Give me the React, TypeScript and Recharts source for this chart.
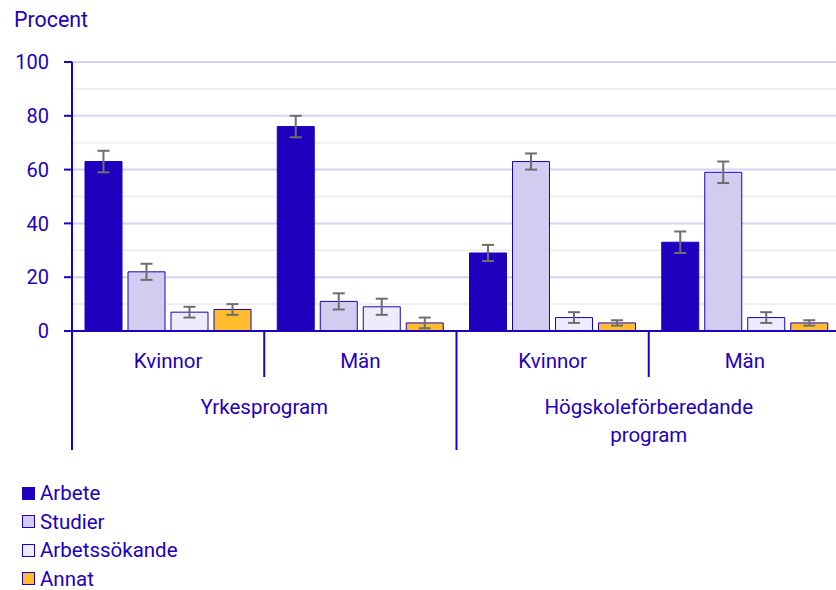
import React from 'react';
import { BarChart, Bar, XAxis, YAxis, CartesianGrid, ErrorBar, Legend } from 'recharts';

const programs = ['Yrkesprogram', 'Yrkesprogram', 'Högskoleförberedande program', 'Högskoleförberedande program'];
const sexes = ['Kvinnor', 'Män', 'Kvinnor', 'Män'];
const seriesNames = ['Arbete', 'Studier', 'Arbetssökande', 'Annat'];
const arbete = [63, 76, 29, 33];
const arbeteErr = [4, 4, 3, 4];
const studier = [22, 11, 63, 59];
const studierErr = [3, 3, 3, 4];
const arbetssokande = [7, 9, 5, 5];
const arbetssokandeErr = [2, 3, 2, 2];
const annat = [8, 3, 3, 3];
const annatErr = [2, 2, 1, 1];
const yTicks = [0, 20, 40, 60, 80, 100];
const minorTicks = [10, 30, 50, 70, 90];

const data = sexes.map((s, i) => ({
  sex: s,
  prog: programs[i],
  arbete: arbete[i],
  arbeteErr: arbeteErr[i],
  studier: studier[i],
  studierErr: studierErr[i],
  arbetssokande: arbetssokande[i],
  arbetssokandeErr: arbetssokandeErr[i],
  annat: annat[i],
  annatErr: annatErr[i],
}));

const INK = '#1e00be';
const FONT = 'Roboto, sans-serif';
const TXT = 20.5;
const BIG = 21.4;
const CHART_W = 845;
const CHART_H = 590;
const M = { top: 62, right: 4, left: 0, bottom: 30 };
const Y_W = 72;
const SEX_H = 46;
const PROG_H = 73;
const LEG_H = 110;
const BW = (CHART_W - M.left - M.right - Y_W) / sexes.length;

const SexTick = (props: any) => {
  const { x, y, payload, index } = props;
  return (
    <g>
      <text x={x} y={y + 30} textAnchor="middle" dominantBaseline="central" fill={INK} fontSize={TXT} fontFamily={FONT}>
        {payload.value}
      </text>
      {index === 0 && (
        <line x1={x - BW / 2} x2={x - BW / 2} y1={y} y2={y + SEX_H + PROG_H} stroke={INK} strokeWidth={2} />
      )}
      <line
        x1={x + BW / 2}
        x2={x + BW / 2}
        y1={y}
        y2={index % 2 === 1 ? y + SEX_H + PROG_H : y + SEX_H}
        stroke={INK}
        strokeWidth={2}
      />
    </g>
  );
};

const ProgTick = (props: any) => {
  const { x, y, payload } = props;
  const words = String(payload.value).split(' ');
  return (
    <text x={x} y={y + 30} textAnchor="middle" fill={INK} fontSize={TXT} fontFamily={FONT}>
      {words.map((w, i) => (
        <tspan key={i} x={x} dy={i === 0 ? 0 : 28} dominantBaseline="central">
          {w}
        </tspan>
      ))}
    </text>
  );
};

const LegendContent = (props: any) => {
  const items = [...(props.payload || [])].sort(
    (a: any, b: any) => seriesNames.indexOf(a.value) - seriesNames.indexOf(b.value)
  );
  return (
    <div style={{ height: LEG_H, fontFamily: FONT, fontSize: TXT, color: INK, lineHeight: 1 }}>
      {items.map((p: any) => (
        <div key={p.value} style={{ display: 'flex', alignItems: 'center', height: 28.5 }}>
          <span
            style={{
              display: 'inline-block',
              width: 11,
              height: 11,
              background: p.color,
              border: `1px solid ${INK}`,
              marginRight: 5,
            }}
          />
          <span>{p.value}</span>
        </div>
      ))}
    </div>
  );
};

const TitleLabel = () => (
  <text x={14} y={27} fill={INK} fontSize={BIG} fontFamily={FONT}>
    Procent
  </text>
);

const series = [
  { key: 'arbete', err: 'arbeteErr', fill: '#1e00be' },
  { key: 'studier', err: 'studierErr', fill: '#d2cdf0' },
  { key: 'arbetssokande', err: 'arbetssokandeErr', fill: '#edebfc' },
  { key: 'annat', err: 'annatErr', fill: '#ffbd2e' },
];

export default function App() {
  return (
    <div style={{ position: 'absolute', left: 0, top: 0, width: 836, height: 590, overflow: 'hidden', background: '#fff', fontFamily: FONT }}>
      <BarChart
        width={CHART_W}
        height={CHART_H}
        data={data}
        margin={M}
        barCategoryGap={13}
        barGap={6}
        style={{ fontFamily: FONT }}
      >
        <CartesianGrid vertical={false} xAxisId="a" horizontalValues={minorTicks} stroke="#efeff2" strokeWidth={2} />
        <CartesianGrid vertical={false} xAxisId="a" horizontalValues={yTicks} stroke="#d6d2f1" strokeWidth={2} />
        <XAxis
          xAxisId="a"
          dataKey="sex"
          height={SEX_H}
          axisLine={{ stroke: INK, strokeWidth: 2 }}
          tickLine={false}
          tickSize={0}
          tickMargin={0}
          tick={<SexTick />}
          interval={0}
        />
        <XAxis
          xAxisId="b"
          dataKey="prog"
          allowDuplicatedCategory={false}
          height={PROG_H}
          axisLine={false}
          tickLine={false}
          tickSize={0}
          tickMargin={0}
          tick={<ProgTick />}
          interval={0}
        />
        <YAxis
          width={Y_W}
          domain={[0, 100]}
          ticks={yTicks}
          axisLine={{ stroke: INK, strokeWidth: 2 }}
          tickLine={{ stroke: INK, strokeWidth: 2 }}
          tickSize={8}
          tickMargin={15}
          tick={{ fill: INK, fontSize: 20, fontFamily: FONT }}
          label={<TitleLabel />}
        />
        <Legend
          layout="vertical"
          align="center"
          verticalAlign="bottom"
          content={<LegendContent />}
          wrapperStyle={{ left: 22, top: 479, width: 300 }}
        />
        {series.map((s, i) => (
          <Bar
            key={s.key}
            xAxisId="a"
            dataKey={s.key}
            name={seriesNames[i]}
            fill={s.fill}
            stroke={INK}
            strokeWidth={1}
            isAnimationActive={false}
          >
            <ErrorBar dataKey={s.err} width={6} stroke="#6e6e6e" strokeWidth={2} direction="y" isAnimationActive={false} />
          </Bar>
        ))}
      </BarChart>
    </div>
  );
}
